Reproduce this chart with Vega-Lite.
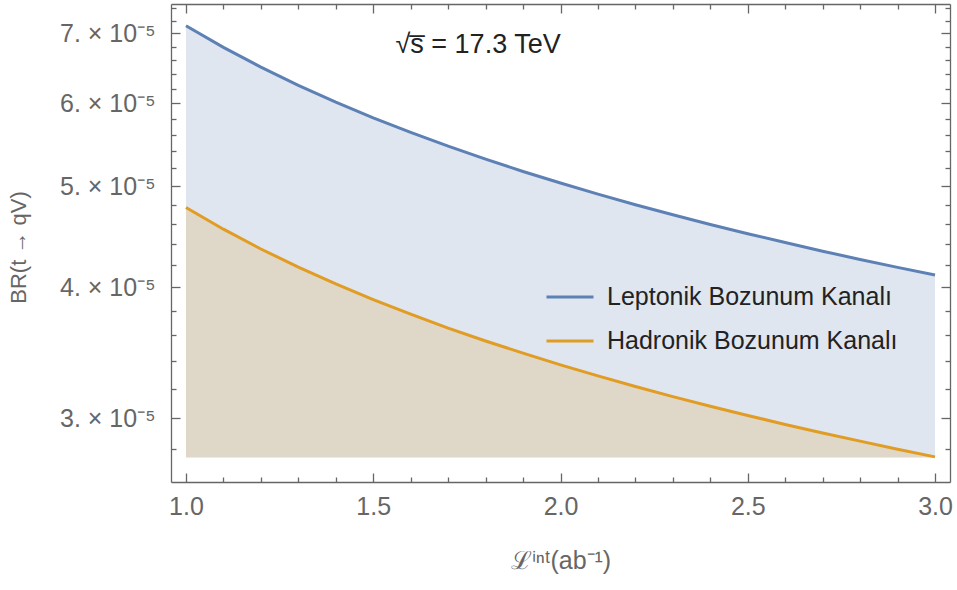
{
  "$schema": "https://vega.github.io/schema/vega-lite/v6.json",
  "width": 779,
  "height": 478,
  "autosize": "none",
  "padding": {"left": 171, "top": 4, "right": 7, "bottom": 108},
  "background": "white",
  "config": {
    "view": {"stroke": null},
    "font": "Liberation Sans",
    "axis": {
      "domainColor": "#666666",
      "tickColor": "#666666",
      "labelColor": "#666666",
      "titleColor": "#666666",
      "labelFont": "Liberation Sans",
      "titleFont": "Liberation Sans",
      "titleFontWeight": "normal",
      "grid": false,
      "zindex": 1,
      "domainWidth": 1.3,
      "tickWidth": 1.3
    }
  },
  "data": {
    "values": [
      {"L": 1.0, "BR": 7.120e-5, "series": "Leptonik Bozunum Kanalı"},
      {"L": 1.1, "BR": 6.789e-5, "series": "Leptonik Bozunum Kanalı"},
      {"L": 1.2, "BR": 6.500e-5, "series": "Leptonik Bozunum Kanalı"},
      {"L": 1.3, "BR": 6.245e-5, "series": "Leptonik Bozunum Kanalı"},
      {"L": 1.4, "BR": 6.017e-5, "series": "Leptonik Bozunum Kanalı"},
      {"L": 1.5, "BR": 5.813e-5, "series": "Leptonik Bozunum Kanalı"},
      {"L": 1.6, "BR": 5.629e-5, "series": "Leptonik Bozunum Kanalı"},
      {"L": 1.7, "BR": 5.461e-5, "series": "Leptonik Bozunum Kanalı"},
      {"L": 1.8, "BR": 5.307e-5, "series": "Leptonik Bozunum Kanalı"},
      {"L": 1.9, "BR": 5.165e-5, "series": "Leptonik Bozunum Kanalı"},
      {"L": 2.0, "BR": 5.035e-5, "series": "Leptonik Bozunum Kanalı"},
      {"L": 2.1, "BR": 4.913e-5, "series": "Leptonik Bozunum Kanalı"},
      {"L": 2.2, "BR": 4.800e-5, "series": "Leptonik Bozunum Kanalı"},
      {"L": 2.3, "BR": 4.695e-5, "series": "Leptonik Bozunum Kanalı"},
      {"L": 2.4, "BR": 4.596e-5, "series": "Leptonik Bozunum Kanalı"},
      {"L": 2.5, "BR": 4.503e-5, "series": "Leptonik Bozunum Kanalı"},
      {"L": 2.6, "BR": 4.416e-5, "series": "Leptonik Bozunum Kanalı"},
      {"L": 2.7, "BR": 4.333e-5, "series": "Leptonik Bozunum Kanalı"},
      {"L": 2.8, "BR": 4.255e-5, "series": "Leptonik Bozunum Kanalı"},
      {"L": 2.9, "BR": 4.181e-5, "series": "Leptonik Bozunum Kanalı"},
      {"L": 3.0, "BR": 4.111e-5, "series": "Leptonik Bozunum Kanalı"},
      {"L": 1.0, "BR": 4.770e-5, "series": "Hadronik Bozunum Kanalı"},
      {"L": 1.1, "BR": 4.548e-5, "series": "Hadronik Bozunum Kanalı"},
      {"L": 1.2, "BR": 4.354e-5, "series": "Hadronik Bozunum Kanalı"},
      {"L": 1.3, "BR": 4.184e-5, "series": "Hadronik Bozunum Kanalı"},
      {"L": 1.4, "BR": 4.031e-5, "series": "Hadronik Bozunum Kanalı"},
      {"L": 1.5, "BR": 3.895e-5, "series": "Hadronik Bozunum Kanalı"},
      {"L": 1.6, "BR": 3.771e-5, "series": "Hadronik Bozunum Kanalı"},
      {"L": 1.7, "BR": 3.658e-5, "series": "Hadronik Bozunum Kanalı"},
      {"L": 1.8, "BR": 3.555e-5, "series": "Hadronik Bozunum Kanalı"},
      {"L": 1.9, "BR": 3.461e-5, "series": "Hadronik Bozunum Kanalı"},
      {"L": 2.0, "BR": 3.373e-5, "series": "Hadronik Bozunum Kanalı"},
      {"L": 2.1, "BR": 3.292e-5, "series": "Hadronik Bozunum Kanalı"},
      {"L": 2.2, "BR": 3.216e-5, "series": "Hadronik Bozunum Kanalı"},
      {"L": 2.3, "BR": 3.145e-5, "series": "Hadronik Bozunum Kanalı"},
      {"L": 2.4, "BR": 3.079e-5, "series": "Hadronik Bozunum Kanalı"},
      {"L": 2.5, "BR": 3.017e-5, "series": "Hadronik Bozunum Kanalı"},
      {"L": 2.6, "BR": 2.958e-5, "series": "Hadronik Bozunum Kanalı"},
      {"L": 2.7, "BR": 2.903e-5, "series": "Hadronik Bozunum Kanalı"},
      {"L": 2.8, "BR": 2.851e-5, "series": "Hadronik Bozunum Kanalı"},
      {"L": 2.9, "BR": 2.801e-5, "series": "Hadronik Bozunum Kanalı"},
      {"L": 3.0, "BR": 2.754e-5, "series": "Hadronik Bozunum Kanalı"}
    ]
  },
  "layer": [
    {
      "transform": [{"filter": "datum.series === 'Leptonik Bozunum Kanalı'"}],
      "mark": {"type": "area", "color": "#5E81B5", "opacity": 0.2},
      "encoding": {
        "x": {
          "field": "L", "type": "quantitative",
          "scale": {"domain": [0.96, 3.04], "nice": false, "zero": false},
          "axis": {
            "orient": "bottom",
            "values": [1.0, 1.5, 2.0, 2.5, 3.0],
            "format": ".1f",
            "tickSize": -9,
            "labelPadding": 21,
            "labelFontSize": 25,
            "labelFlush": false,
            "title": "ℒⁱⁿᵗ(ab⁻¹)",
            "titleFontSize": 25,
            "titleY": 78,
            "titleBaseline": "middle"
          }
        },
        "y": {
          "field": "BR", "type": "quantitative",
          "scale": {"type": "log", "domain": [2.6056e-5, 7.47e-5], "nice": false},
          "axis": {
            "orient": "left",
            "values": [3e-5, 4e-5, 5e-5, 6e-5, 7e-5],
            "labelExpr": "round(datum.value * 1e5) + '. × 10⁻⁵'",
            "tickSize": -9,
            "labelPadding": 25,
            "labelFontSize": 25,
            "labelFlush": false,
            "labelLimit": 0,
            "title": "BR(t → qV)",
            "titleFontSize": 22,
            "titleX": -153,
            "titleY": 243,
            "titleAngle": -90,
            "titleAlign": "center",
            "titleBaseline": "middle"
          }
        },
        "y2": {"datum": 2.75e-5}
      }
    },
    {
      "transform": [{"filter": "datum.series === 'Hadronik Bozunum Kanalı'"}],
      "mark": {"type": "area", "color": "#E19C24", "opacity": 0.2},
      "encoding": {
        "x": {
          "field": "L", "type": "quantitative",
          "axis": {
            "orient": "bottom",
            "values": [1.1, 1.2, 1.3, 1.4, 1.6, 1.7, 1.8, 1.9, 2.1, 2.2, 2.3, 2.4, 2.6, 2.7, 2.8, 2.9],
            "tickSize": -5,
            "labels": false,
            "domain": false,
            "title": null
          }
        },
        "y": {
          "field": "BR", "type": "quantitative",
          "axis": {
            "orient": "left",
            "values": [2.8e-5, 3.2e-5, 3.4e-5, 3.6e-5, 3.8e-5, 4.2e-5, 4.4e-5, 4.6e-5, 4.8e-5, 5.2e-5, 5.4e-5, 5.6e-5, 5.8e-5, 6.2e-5, 6.4e-5, 6.6e-5, 6.8e-5, 7.2e-5, 7.4e-5],
            "tickSize": -5,
            "labels": false,
            "domain": false,
            "title": null
          }
        },
        "y2": {"datum": 2.75e-5}
      }
    },
    {
      "mark": {"type": "line", "strokeWidth": 3},
      "encoding": {
        "x": {
          "field": "L", "type": "quantitative",
          "axis": {
            "orient": "top",
            "values": [1.0, 1.5, 2.0, 2.5, 3.0],
            "tickSize": -9,
            "labels": false,
            "title": null
          }
        },
        "y": {
          "field": "BR", "type": "quantitative",
          "axis": {
            "orient": "right",
            "values": [3e-5, 4e-5, 5e-5, 6e-5, 7e-5],
            "tickSize": -9,
            "labels": false,
            "title": null
          }
        },
        "color": {
          "field": "series", "type": "nominal",
          "scale": {"domain": ["Leptonik Bozunum Kanalı", "Hadronik Bozunum Kanalı"], "range": ["#5E81B5", "#E19C24"]},
          "legend": {
            "orient": "none",
            "legendX": 374,
            "legendY": 268,
            "title": null,
            "symbolType": "stroke",
            "symbolSize": 2209,
            "symbolStrokeWidth": 3,
            "labelFontSize": 25,
            "labelFont": "Liberation Sans",
            "labelColor": "#222222",
            "labelOffset": 12,
            "labelLimit": 0,
            "rowPadding": 6
          }
        }
      }
    },
    {
      "data": {"values": [{"L": 1.78, "BR": 6.82e-5, "label": "√s̅ = 17.3 TeV"}]},
      "mark": {"type": "text", "fontSize": 27, "color": "#222222", "font": "Liberation Sans"},
      "encoding": {
        "x": {
          "field": "L", "type": "quantitative",
          "axis": {
            "orient": "top",
            "values": [1.1, 1.2, 1.3, 1.4, 1.6, 1.7, 1.8, 1.9, 2.1, 2.2, 2.3, 2.4, 2.6, 2.7, 2.8, 2.9],
            "tickSize": -5,
            "labels": false,
            "domain": false,
            "title": null
          }
        },
        "y": {
          "field": "BR", "type": "quantitative",
          "axis": {
            "orient": "right",
            "values": [2.8e-5, 3.2e-5, 3.4e-5, 3.6e-5, 3.8e-5, 4.2e-5, 4.4e-5, 4.6e-5, 4.8e-5, 5.2e-5, 5.4e-5, 5.6e-5, 5.8e-5, 6.2e-5, 6.4e-5, 6.6e-5, 6.8e-5, 7.2e-5, 7.4e-5],
            "tickSize": -5,
            "labels": false,
            "domain": false,
            "title": null
          }
        },
        "text": {"field": "label"}
      }
    }
  ],
  "resolve": {"axis": {"x": "independent", "y": "independent"}}
}
